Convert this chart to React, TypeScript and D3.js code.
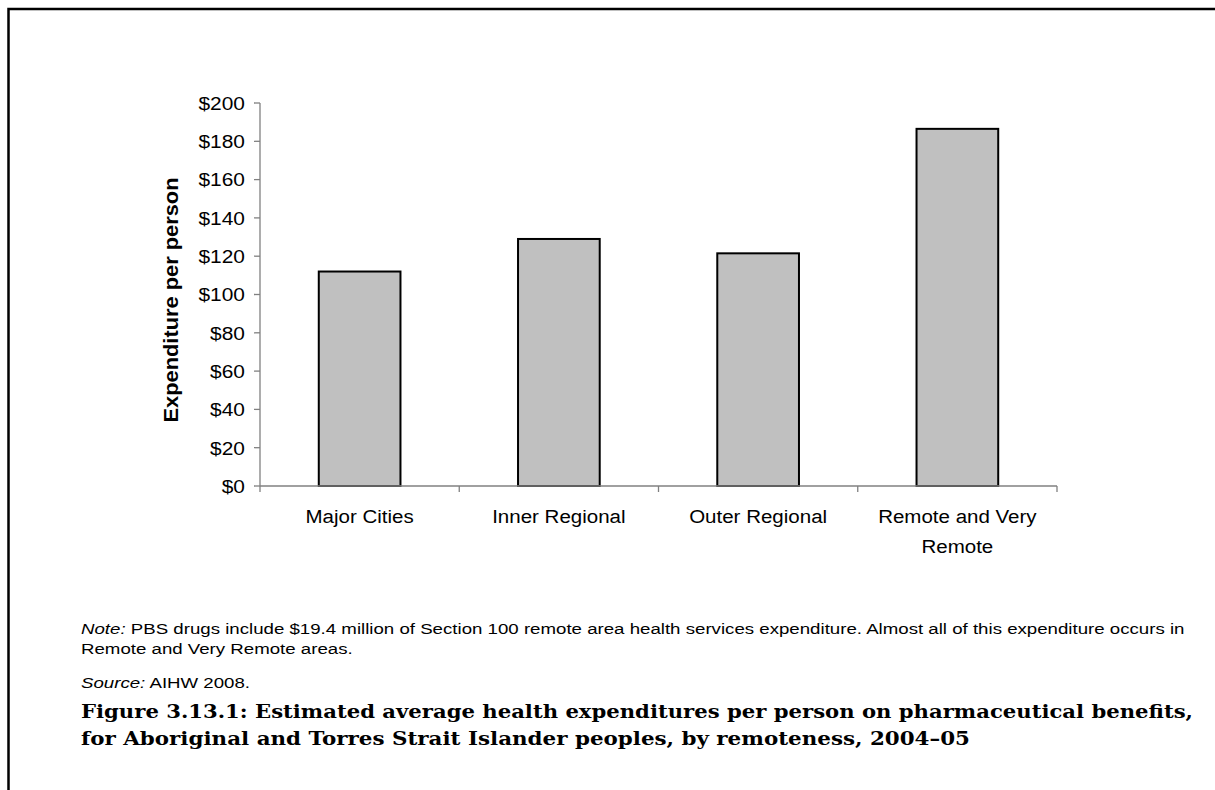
import React, { useEffect, useRef } from "react";
import * as d3 from "d3";

const categories = ["Major Cities", "Inner Regional", "Outer Regional", "Remote and Very Remote"];
const categoryLines = [["Major Cities"], ["Inner Regional"], ["Outer Regional"], ["Remote and Very", "Remote"]];
const values = [112, 129, 121.5, 186.5];
const yTicks = [0, 20, 40, 60, 80, 100, 120, 140, 160, 180, 200];

const noteText = "PBS drugs include $19.4 million of Section 100 remote area health services expenditure. Almost all of this expenditure occurs in";
const noteText2 = "Remote and Very Remote areas.";
const sourceText = "AIHW 2008.";
const titleLines = [
    "Figure 3.13.1: Estimated average health expenditures per person on pharmaceutical benefits,",
    "for Aboriginal and Torres Strait Islander peoples, by remoteness, 2004\u201305"
];

export default function App() {
    const chart = useRef<SVGSVGElement>(null);

    useEffect(() => {
        const width = 1215;
        const height = 790;
        const plot = { left: 260, right: 1057, top: 103, bottom: 486 };
        const sans = "'Liberation Sans', Arial, sans-serif";
        const svg = d3.select(chart.current)
            .attr("width", width)
            .attr("height", height);

        // frame (left and top edges only)
        svg.append("path")
            .attr("d", "M8.5,790 L8.5,9 L1215,9")
            .attr("fill", "none")
            .attr("stroke", "#000")
            .attr("stroke-width", 2.5);

        const x = d3.scaleBand<string>()
            .domain(categories)
            .range([plot.left, plot.right])
            .padding(0);

        const y = d3.scaleLinear()
            .domain([0, 200])
            .range([plot.bottom, plot.top]);

        const g = svg.append("g");

        // y axis
        g.append("line")
            .attr("x1", plot.left).attr("x2", plot.left)
            .attr("y1", plot.top).attr("y2", plot.bottom)
            .attr("stroke", "#808080").attr("stroke-width", 1.3);
        g.selectAll(".ytick")
            .data(yTicks)
            .enter()
            .append("line")
            .attr("x1", plot.left - 6).attr("x2", plot.left)
            .attr("y1", d => y(d)).attr("y2", d => y(d))
            .attr("stroke", "#808080").attr("stroke-width", 1.3);
        g.selectAll(".ylabel")
            .data(yTicks)
            .enter()
            .append("text")
            .attr("transform", d => `translate(245,${y(d)}) scale(1.1,1)`)
            .attr("dy", "0.36em")
            .attr("text-anchor", "end")
            .attr("font-family", sans)
            .attr("font-size", 19)
            .attr("fill", "#000")
            .text(d => "$" + d);

        // y axis title
        svg.append("text")
            .attr("transform", `translate(178,300) rotate(-90)`)
            .attr("text-anchor", "middle")
            .attr("font-family", sans)
            .attr("font-size", 21)
            .attr("font-weight", "bold")
            .attr("textLength", 245)
            .attr("lengthAdjust", "spacingAndGlyphs")
            .text("Expenditure per person");

        // bars
        const barWidth = x.bandwidth() * 0.41;
        g.selectAll(".bar")
            .data(categories)
            .enter()
            .append("rect")
            .attr("x", d => (x(d) as number) + (x.bandwidth() - barWidth) / 2)
            .attr("y", (d, i) => y(values[i]))
            .attr("width", barWidth)
            .attr("height", (d, i) => y(0) - y(values[i]))
            .attr("fill", "#c0c0c0")
            .attr("stroke", "#000")
            .attr("stroke-width", 2);

        // x axis
        g.append("line")
            .attr("x1", plot.left).attr("x2", plot.right)
            .attr("y1", plot.bottom).attr("y2", plot.bottom)
            .attr("stroke", "#808080").attr("stroke-width", 1.3);
        const boundaries = categories.map(d => x(d) as number).concat([plot.right]);
        g.selectAll(".xtick")
            .data(boundaries)
            .enter()
            .append("line")
            .attr("x1", d => d).attr("x2", d => d)
            .attr("y1", plot.bottom).attr("y2", plot.bottom + 6)
            .attr("stroke", "#808080").attr("stroke-width", 1.3);

        categories.forEach((d, i) => {
            const cx = (x(d) as number) + x.bandwidth() / 2;
            categoryLines[i].forEach((t, j) => {
                g.append("text")
                    .attr("transform", `translate(${cx},${523 + j * 30}) scale(1.08,1)`)
                    .attr("text-anchor", "middle")
                    .attr("font-family", sans)
                    .attr("font-size", 19)
                    .attr("fill", "#000")
                    .text(t);
            });
        });

        // note and source
        const notes = svg.append("g")
            .attr("transform", "translate(81,0) scale(1.245,1)")
            .attr("font-family", sans)
            .attr("font-size", 15)
            .attr("fill", "#000");
        const note = notes.append("text").attr("x", 0).attr("y", 634);
        note.append("tspan").attr("font-style", "italic").text("Note:");
        note.append("tspan").text(" " + noteText);
        notes.append("text").attr("x", 0).attr("y", 654).text(noteText2);
        const source = notes.append("text").attr("x", 0).attr("y", 688);
        source.append("tspan").attr("font-style", "italic").text("Source:");
        source.append("tspan").text(" " + sourceText);

        // figure title
        const titleWidths = [1112, 889];
        svg.selectAll(".title")
            .data(titleLines)
            .enter()
            .append("text")
            .attr("x", 81)
            .attr("y", (d, i) => 718 + i * 27)
            .attr("font-family", "'DejaVu Serif', 'Liberation Serif', serif")
            .attr("font-size", 18.5)
            .attr("font-weight", "bold")
            .attr("textLength", (d, i) => titleWidths[i])
            .attr("lengthAdjust", "spacingAndGlyphs")
            .text(d => d);

        return () => {
            svg.selectAll("*").remove();
        };
    }, []);

    return (
        <svg ref={chart} style={{ position: "absolute", left: 0, top: 0, background: "#fff" }}></svg>
    );
}
